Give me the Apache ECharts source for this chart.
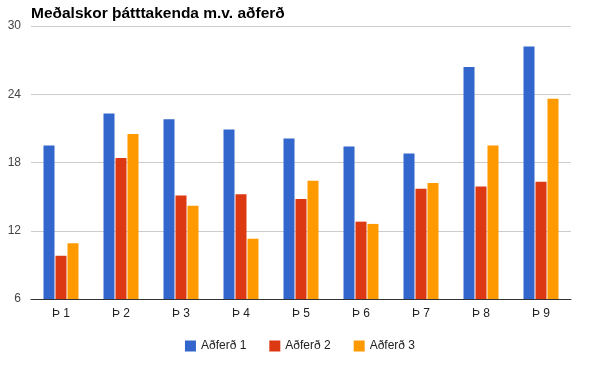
<!DOCTYPE html>
<html><head><meta charset="utf-8">
<script src="https://cdn.jsdelivr.net/npm/echarts@6/dist/echarts.min.js"></script>
<style>html,body{margin:0;padding:0;background:#fff}#c{width:600px;height:371px}</style>
</head><body><div id="c"></div>
<script>
var categories = ['Þ 1','Þ 2','Þ 3','Þ 4','Þ 5','Þ 6','Þ 7','Þ 8','Þ 9'];
var adferd1 = [19.5, 22.3, 21.8, 20.9, 20.1, 19.4, 18.8, 26.4, 28.2];
var adferd2 = [9.8, 18.4, 15.1, 15.2, 14.8, 12.8, 15.7, 15.9, 16.3];
var adferd3 = [10.9, 20.5, 14.2, 11.3, 16.4, 12.6, 16.2, 19.5, 23.6];
var seriesNames = ['Aðferð 1','Aðferð 2','Aðferð 3'];
var colors = ['#3366cc','#dc3912','#ff9900'];
var font = 'Arial, "Liberation Sans", sans-serif';
var chart = echarts.init(document.getElementById('c'), null, {renderer:'canvas'});
chart.setOption({
  animation: false,
  color: colors,
  title: {text: 'Meðalskor þátttakenda m.v. aðferð', left: 26, top: 1,
    textStyle: {fontFamily: font, fontSize: 15.5, fontWeight: 'bold', color: '#000'}},
  legend: {bottom: 14, left: 'center', itemWidth: 11, itemHeight: 11, itemGap: 23,
    icon: 'rect', textStyle: {fontFamily: font, fontSize: 12, color: '#222'},
    data: seriesNames},
  grid: {left: 31, right: 29, top: 26, bottom: 72, containLabel: false},
  xAxis: {type: 'category', data: categories,
    axisLine: {lineStyle: {color: '#333', width: 1}},
    axisTick: {show: false},
    axisLabel: {fontFamily: font, fontSize: 12, color: '#222', margin: 9}},
  yAxis: {type: 'value', min: 6, max: 30, interval: 6,
    axisLine: {show: false}, axisTick: {show: false},
    splitLine: {lineStyle: {color: '#cccccc'}},
    axisLabel: {fontFamily: font, fontSize: 12, color: '#444', margin: 10}},
  series: [
    {name: seriesNames[0], type: 'bar', data: adferd1, barWidth: 11, barGap: '9%'},
    {name: seriesNames[1], type: 'bar', data: adferd2, barWidth: 11, barGap: '9%'},
    {name: seriesNames[2], type: 'bar', data: adferd3, barWidth: 11, barGap: '9%'}
  ]
});
</script></body></html>
